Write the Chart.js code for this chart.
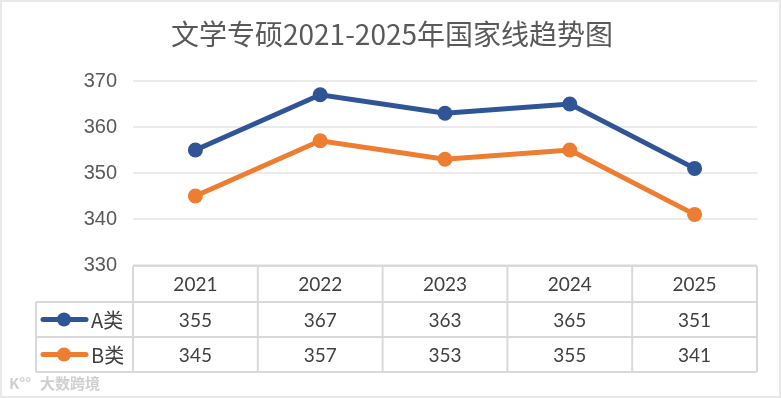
<!DOCTYPE html>
<html><head><meta charset="utf-8">
<script src="https://cdn.jsdelivr.net/npm/chart.js@4"></script>
<style>html,body{margin:0;padding:0;background:#fff;}#wrap{width:781px;height:398px;}</style>
</head><body><div id="wrap"><canvas id="c" width="781" height="398"></canvas></div>
<script>
const titleText = "文学专硕2021-2025年国家线趋势图";
const categories = ["2021","2022","2023","2024","2025"];
const seriesNames = ["A类","B类"];
const seriesA = [355,367,363,365,351];
const seriesB = [345,357,353,355,341];
const yTicks = [330,340,350,360,370];
const colors = ["#2f5597","#ed7d31"];
const watermark = "大数跨境";

const textColor = "#595959";
const tableFont = "19px Lato, 'Noto Sans', sans-serif";

const tablePlugin = {
  id: 'tablePlugin',
  beforeDraw(chart) {
    const ctx = chart.ctx;
    ctx.save();
    ctx.fillStyle = '#fff';
    ctx.fillRect(0,0,chart.width,chart.height);
    ctx.restore();
  },
  afterDraw(chart) {
    const ctx = chart.ctx;
    const ca = chart.chartArea;
    const xs = chart.scales.x;
    const n = categories.length;
    const bw = (ca.right - ca.left) / n;
    const rowTop = ca.bottom + 1;
    const rowH = [36, 35, 35];
    const y1 = rowTop + rowH[0], y2 = y1 + rowH[1], y3 = y2 + rowH[2];
    const legLeft = 36;
    ctx.save();
    // title
    ctx.fillStyle = textColor;
    ctx.font = "28px 'Noto Sans CJK SC', sans-serif";
    ctx.textAlign = 'center';
    ctx.textBaseline = 'middle';
    ctx.fillText(titleText, 392, 34);
    // table lines
    ctx.strokeStyle = '#d9d9d9';
    ctx.lineWidth = 2;
    ctx.beginPath();
    ctx.moveTo(ca.left, rowTop); ctx.lineTo(ca.right, rowTop);
    ctx.moveTo(legLeft, y1); ctx.lineTo(ca.right, y1);
    ctx.moveTo(legLeft, y2); ctx.lineTo(ca.right, y2);
    ctx.moveTo(legLeft, y3); ctx.lineTo(ca.right, y3);
    ctx.moveTo(legLeft, y1); ctx.lineTo(legLeft, y3);
    for (let i = 0; i <= n; i++) {
      const x = ca.left + i * bw;
      ctx.moveTo(x, rowTop); ctx.lineTo(x, y3);
    }
    ctx.stroke();
    // header and values
    ctx.fillStyle = '#404040';
    ctx.font = tableFont;
    ctx.textAlign = 'center';
    ctx.textBaseline = 'middle';
    const series = [seriesA, seriesB];
    for (let i = 0; i < n; i++) {
      const cx = xs.getPixelForValue(i);
      ctx.fillText(categories[i], cx, (rowTop + y1) / 2 + 1);
      ctx.fillText(String(series[0][i]), cx, (y1 + y2) / 2 + 1);
      ctx.fillText(String(series[1][i]), cx, (y2 + y3) / 2 + 1);
    }
    // legend keys
    for (let s = 0; s < 2; s++) {
      const cy = s === 0 ? (y1 + y2) / 2 : (y2 + y3) / 2;
      ctx.strokeStyle = colors[s];
      ctx.lineWidth = 5;
      ctx.lineCap = 'round';
      ctx.beginPath();
      ctx.moveTo(43, cy); ctx.lineTo(86, cy); ctx.stroke();
      ctx.fillStyle = colors[s];
      ctx.beginPath(); ctx.arc(64, cy, 7, 0, Math.PI * 2); ctx.fill();
      ctx.fillStyle = '#404040';
      ctx.textAlign = 'left';
      ctx.font = "20px 'Noto Sans CJK SC', sans-serif";
      ctx.fillText(seriesNames[s], 91, cy + 1);
    }
    // watermark
    ctx.fillStyle = '#cfcfcf';
    ctx.font = "bold 15px 'Noto Sans CJK SC', sans-serif";
    ctx.textAlign = 'left';
    ctx.fillText("K°°", 9, 383);
    ctx.fillText(watermark, 40, 383);
    // frame
    ctx.strokeStyle = '#e8e8e8';
    ctx.lineWidth = 3;
    ctx.strokeRect(0.5, 0.5, chart.width - 1, chart.height - 1);
    ctx.restore();
  }
};

new Chart(document.getElementById('c'), {
  type: 'line',
  data: {
    labels: categories,
    datasets: [
      { label: seriesNames[0], data: seriesA, borderColor: colors[0], backgroundColor: colors[0],
        borderWidth: 5, pointRadius: 7.5, pointHoverRadius: 7.5, pointBorderWidth: 0, tension: 0 },
      { label: seriesNames[1], data: seriesB, borderColor: colors[1], backgroundColor: colors[1],
        borderWidth: 5, pointRadius: 7.5, pointHoverRadius: 7.5, pointBorderWidth: 0, tension: 0 }
    ]
  },
  options: {
    responsive: false,
    animation: false,
    events: [],
    layout: { padding: { left: 0, right: 24, top: 81, bottom: 133 } },
    plugins: { legend: { display: false }, title: { display: false }, tooltip: { enabled: false } },
    scales: {
      x: { display: false, offset: true },
      y: {
        min: yTicks[0], max: yTicks[yTicks.length - 1],
        afterBuildTicks(scale) { scale.ticks = yTicks.map(v => ({ value: v })); },
        afterFit(scale) { scale.width = 133; },
        border: { display: false },
        grid: { color: '#ebebeb', lineWidth: 2, drawTicks: false },
        ticks: { color: textColor, padding: 16, font: { family: "Arial, 'Liberation Sans', sans-serif", size: 20 } }
      }
    }
  },
  plugins: [tablePlugin]
});
</script></body></html>
